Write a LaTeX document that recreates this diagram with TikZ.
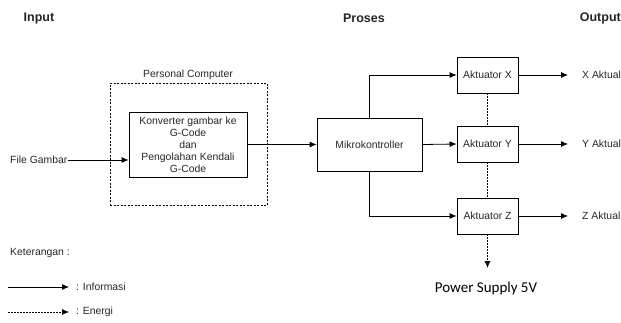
\documentclass[tikz,border=0pt]{standalone}
\usepackage{fontspec}
\setmainfont{Liberation Sans}
\newfontfamily\psfont{Carlito}
\usetikzlibrary{arrows.meta}

\tikzset{
    block/.style={rectangle,draw,thick,inner sep=0pt},
    info/.style={-{Latex[length=7pt,width=6pt]}, thick},
    energi/.style={-{Latex[length=7pt,width=6pt]}, thick, dash pattern=on 1.5pt off 1.5pt},
    head/.style={font=\bfseries\fontsize{12.5}{14}\selectfont},
}

\begin{document}
\begin{tikzpicture}[x=1pt,y=-1pt,font=\fontsize{10.4}{12}\selectfont,text=black!85]
    \useasboundingbox (0,0) rectangle (621,322) ;

    \node[head] (input) at (39,18) {Input} ;
    \node[head] (proses) at (364,18) {Proses} ;
    \node[head,anchor=east,inner sep=0pt] (output) at (621,18) {Output} ;

    \node[rectangle,draw,thick,dash pattern=on 2pt off 1.5pt,minimum width=157pt,minimum height=122pt] (pc) at (188.5,144) {} ;
    \node (pc_label) at (188,75) {Personal Computer} ;
    \node[block,minimum width=118pt,minimum height=65pt,align=center] (konv) at (188,144.5) {Konverter gambar ke\\G-Code\\dan\\Pengolahan Kendali\\G-Code} ;
    \node[anchor=west,inner sep=0pt] (file) at (10,160) {File Gambar} ;

    \node[block,minimum width=105pt,minimum height=53pt] (mikro) at (369.5,144.5) {Mikrokontroller} ;
    \node[block,minimum width=61pt,minimum height=36pt] (ax) at (487.5,75) {Aktuator X} ;
    \node[block,minimum width=61pt,minimum height=36pt] (ay) at (487.5,144) {Aktuator Y} ;
    \node[block,minimum width=61pt,minimum height=36pt] (az) at (487.5,216) {Aktuator Z} ;

    \node[anchor=west,inner sep=0pt] (xout) at (582,75) {X Aktual} ;
    \node[anchor=west,inner sep=0pt] (yout) at (582,144) {Y Aktual} ;
    \node[anchor=west,inner sep=0pt] (zout) at (582,216) {Z Aktual} ;

    \node[font=\psfont\fontsize{15}{18}\selectfont,text=black] (psu) at (486,288) {Power Supply 5V} ;
    \coordinate (psu_tip) at (487.5,268) ;

    \draw[info] (file.east) -- (konv.west |- file.east) ;
    \draw[info] (konv.east) -- (mikro.west) ;
    \draw[info] (mikro.north) |- (ax.west) ;
    \draw[info] (mikro.east) -- (ay.west) ;
    \draw[info] (mikro.south) |- (az.west) ;
    \draw[info] (ax.east) -- ([xshift=-14pt]xout.west) ;
    \draw[info] (ay.east) -- ([xshift=-14pt]yout.west) ;
    \draw[info] (az.east) -- ([xshift=-14pt]zout.west) ;

    \draw[thick,dash pattern=on 1.5pt off 1.5pt] (ax.south) -- (ay.north) ;
    \draw[thick,dash pattern=on 1.5pt off 1.5pt] (ay.south) -- (az.north) ;
    \draw[energi] (az.south) -- (psu_tip) ;

    % keterangan
    \node[anchor=west,inner sep=0pt] (ket) at (10,253) {Keterangan :} ;
    \node[anchor=west,inner sep=0pt] (ket_info) at (76,287) {: Informasi} ;
    \node[anchor=west,inner sep=0pt] (ket_energi) at (76,312) {: Energi} ;
    \coordinate (info_start) at (8,287) ;
    \coordinate (energi_start) at (8,312) ;
    \draw[info] (info_start) -- ([xshift=-7pt]ket_info.west) ;
    \draw[energi] (energi_start) -- ([xshift=-7pt]ket_energi.west) ;
\end{tikzpicture}
\end{document}
